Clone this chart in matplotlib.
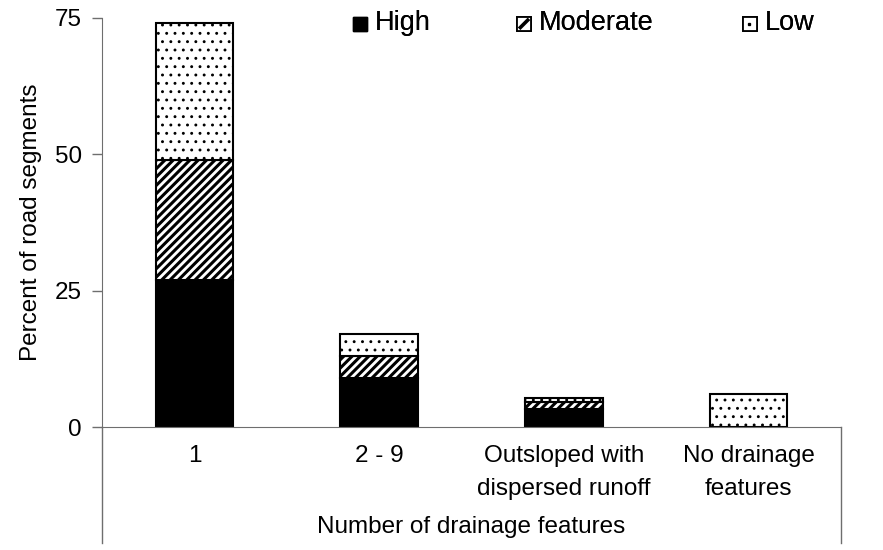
import matplotlib
matplotlib.use("Agg")
import matplotlib.pyplot as plt
from matplotlib.patches import Patch, Rectangle
from matplotlib.lines import Line2D
from matplotlib.legend_handler import HandlerBase

categories = ["1", "2 - 9", "Outsloped with\ndispersed runoff", "No drainage\nfeatures"]
high = [27, 9, 3.3, 0]
moderate = [22, 4, 1.3, 0]
low = [25, 4, 0.7, 6]
yticks = [0, 25, 50, 75]
series_names = ["High", "Moderate", "Low"]

plt.rcParams['font.family'] = ['Liberation Sans', 'DejaVu Sans']
FS = 17.5
LFS = 19.5

fig = plt.figure(figsize=(8.83, 5.5), dpi=100)
ax = fig.add_axes([102/883, 1-427/550, (841-102)/883, (427-18)/550])

x = list(range(len(categories)))
w = 0.42
axis_col = '#6e6e6e'

plt.rcParams['hatch.linewidth'] = 2.2
ax.bar(x, high, w, color='black', edgecolor='black', linewidth=1.5)
ax.bar(x, moderate, w, bottom=high, color='white', edgecolor='black', hatch='////', linewidth=1.5)
plt.rcParams['hatch.linewidth'] = 0.9
bottoms = [h + m for h, m in zip(high, moderate)]
ax.bar(x, low, w, bottom=bottoms, color='white', edgecolor='black', hatch='..', linewidth=1.5)

ax.set_xlim(-0.5, 3.5)
ax.set_ylim(0, 75)
ax.set_yticks(yticks)
ax.set_yticklabels([str(t) for t in yticks], fontsize=FS)
ax.set_xticks(x)
ax.set_xticklabels(categories, fontsize=FS, linespacing=1.62)
ax.tick_params(axis='x', length=0, pad=13)
ax.tick_params(axis='y', length=7, width=1, color=axis_col, direction='out', pad=7.5)

for s in ['top', 'right']:
    ax.spines[s].set_visible(False)
ax.spines['left'].set_color(axis_col)
ax.spines['bottom'].set_color(axis_col)
ax.spines['left'].set_bounds(0, 75)

# extended frame lines below the axis (chart border)
ybot = -(543 - 427) / (427 - 18)
ax.add_line(Line2D([0, 0], [0, ybot], transform=ax.transAxes, color=axis_col, lw=1, clip_on=False))
ax.add_line(Line2D([1, 1], [0, ybot], transform=ax.transAxes, color=axis_col, lw=1, clip_on=False))

ax.set_ylabel("Percent of road segments", fontsize=FS)
ax.yaxis.set_label_coords((42 - 102) / 739, 0.5)
fig.text(471/883, 1-527/550, "Number of drainage features", fontsize=FS, ha='center', va='center')


class MarkerHandler(HandlerBase):
    def __init__(self, kind):
        super().__init__()
        self.kind = kind

    def create_artists(self, legend, orig, xd, yd, wd, ht, fs, trans):
        s = min(wd, ht)
        x0, y0 = xd, yd + (ht - s) / 2
        if self.kind == 'high':
            return [Rectangle((x0, y0), s, s, fc='black', ec='black', lw=1, transform=trans)]
        rect = Rectangle((x0, y0), s, s, fc='white', ec='black', lw=1.3, transform=trans)
        if self.kind == 'moderate':
            ln = Line2D([x0 + 1.5, x0 + s - 1.5], [y0 + 1.5, y0 + s - 1.5], color='black', lw=2.6,
                        transform=trans, solid_capstyle='butt')
        else:
            ln = Line2D([x0 + s * 0.42], [y0 + s * 0.5], marker='s', ms=1.4, color='black',
                        linestyle='none', transform=trans)
        return [rect, ln]


handles = [Patch(label='High'), Patch(label='Moderate'), Patch(label='Low')]
kinds = ['high', 'moderate', 'low']
for hnd, kind, xl in zip(handles, kinds, [353, 517, 743]):
    lg = fig.legend(handles=[hnd], loc='center left', bbox_to_anchor=(xl/883, 1-23/550),
                    frameon=False, fontsize=LFS, handlelength=0.52, handleheight=0.52,
                    handletextpad=0.28, borderpad=0, borderaxespad=0,
                    handler_map={hnd: MarkerHandler(kind)})
    fig.add_artist(lg)

fig.savefig("out.png", dpi=100)
